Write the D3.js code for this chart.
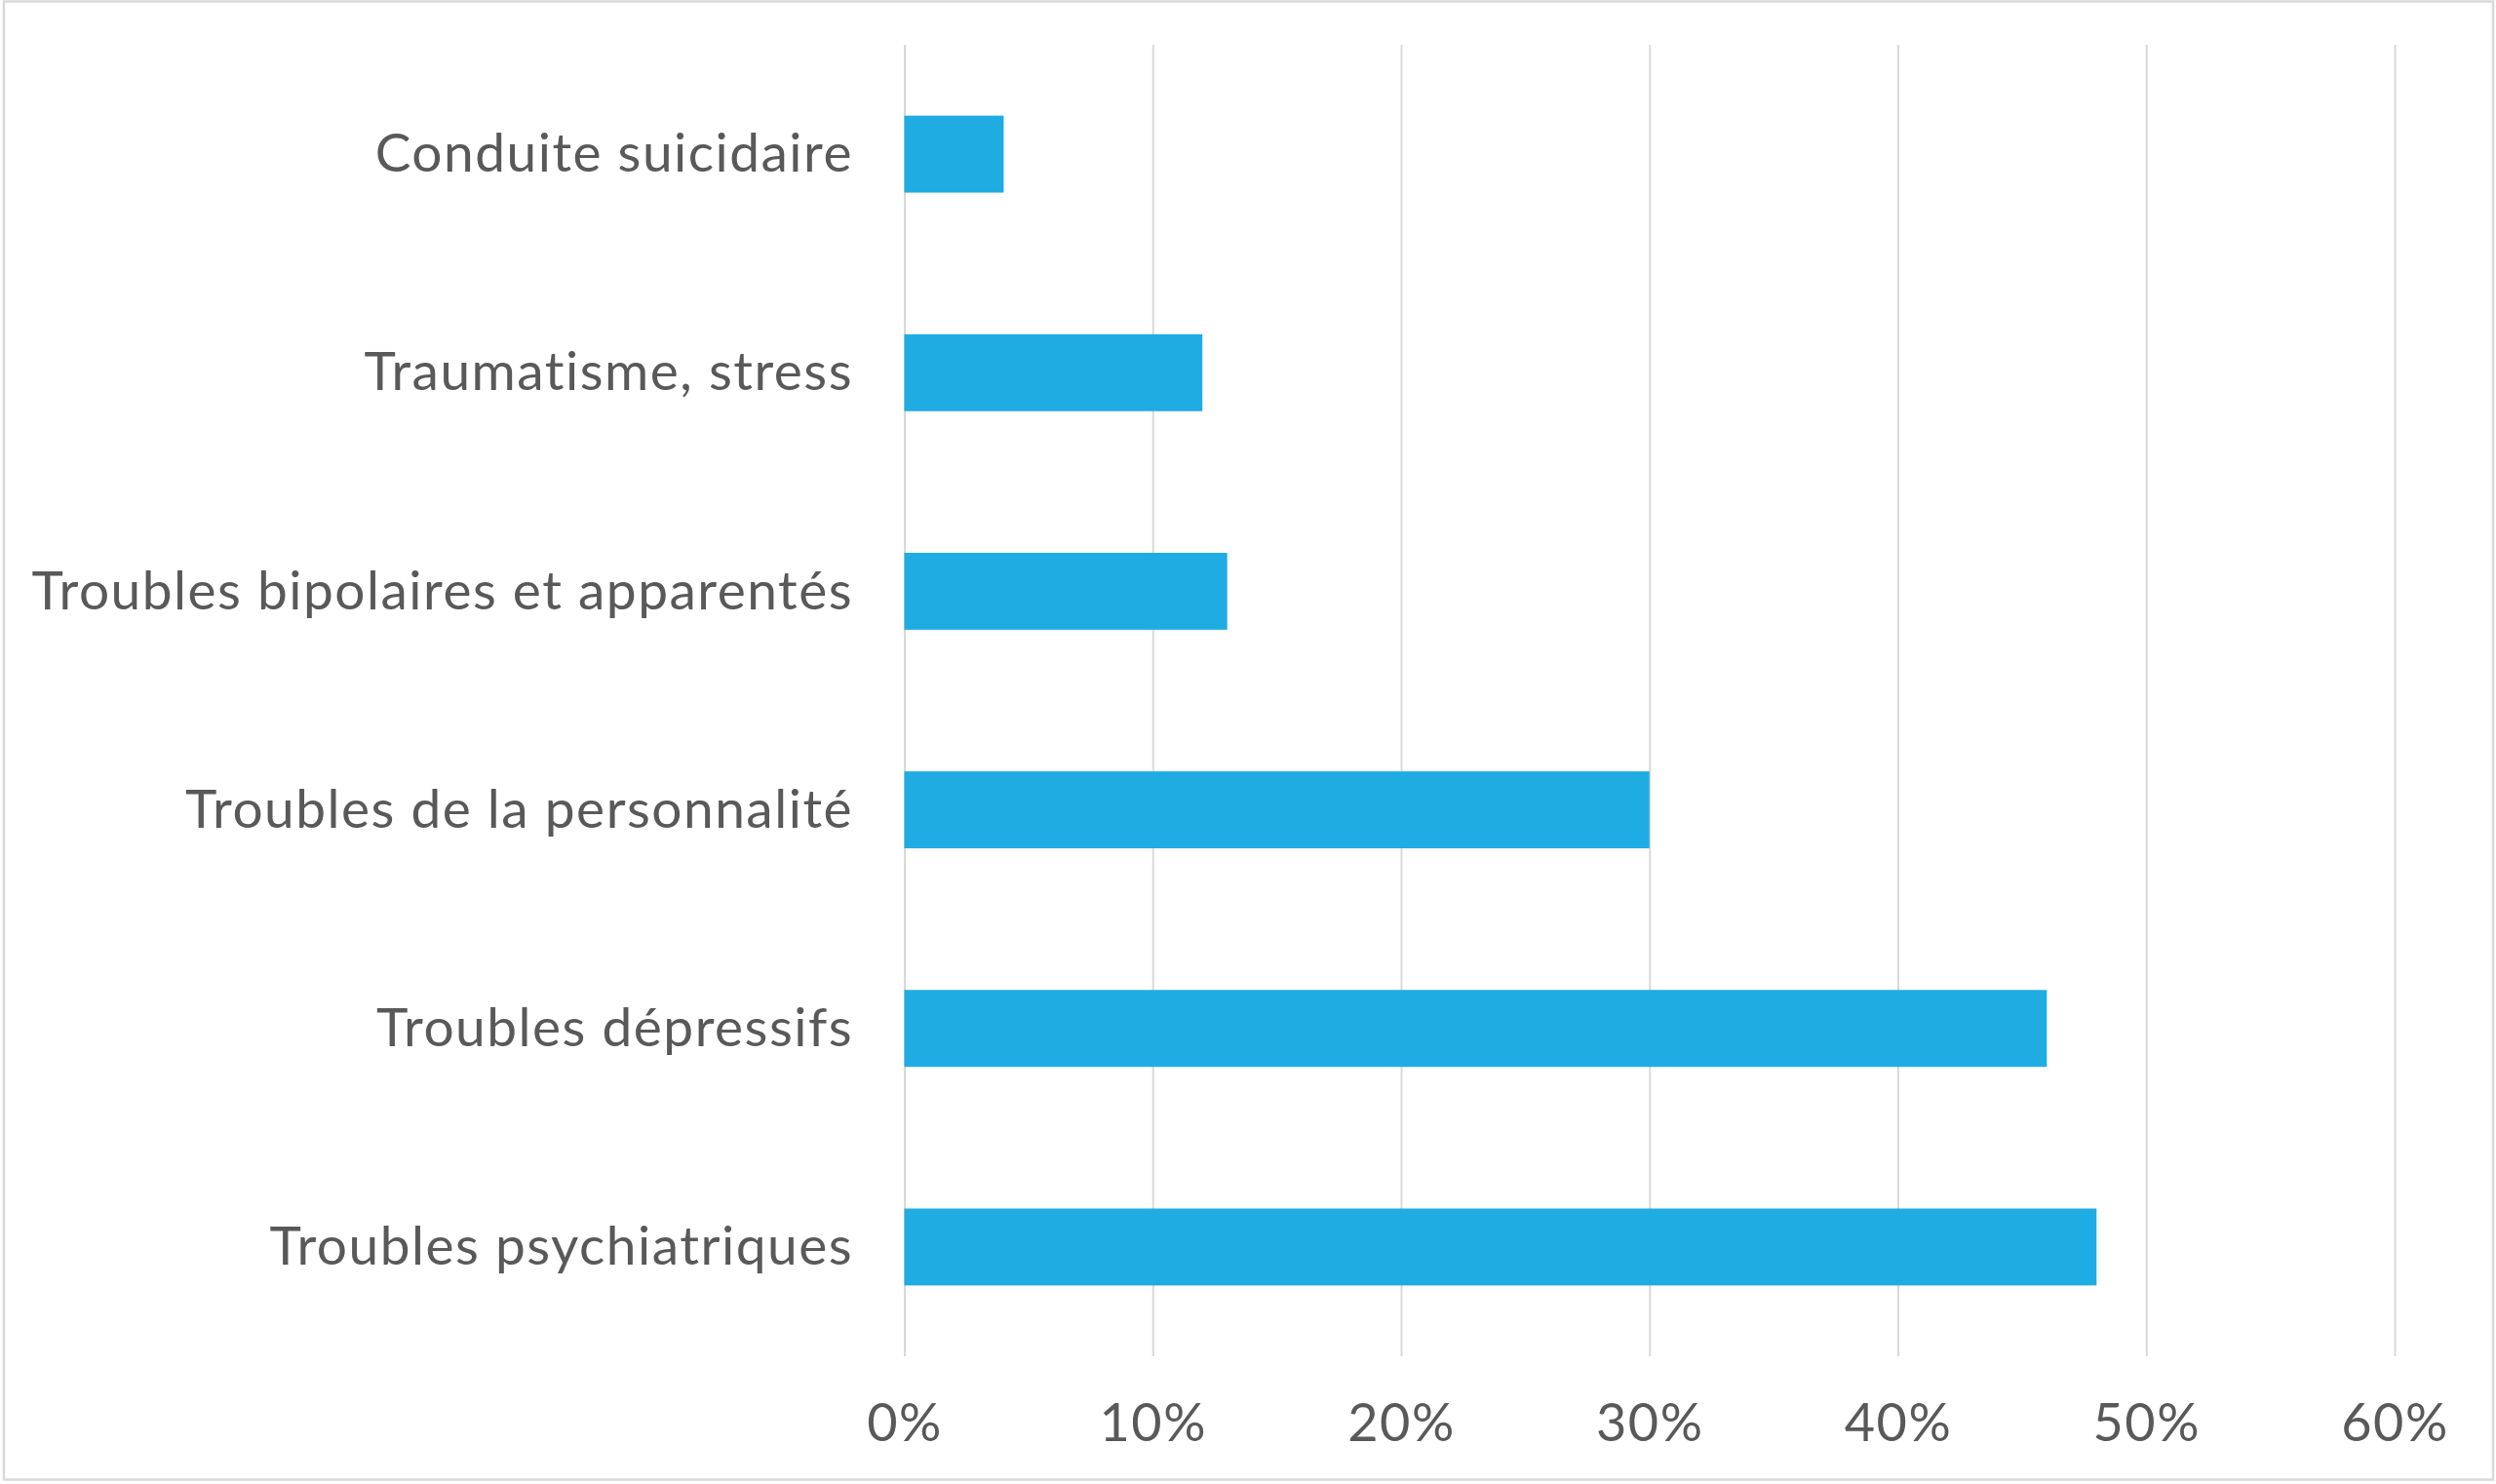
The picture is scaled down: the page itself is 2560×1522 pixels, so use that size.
<!DOCTYPE html>
<html>
<head>
<meta charset="utf-8">
<script src="https://cdn.jsdelivr.net/npm/d3@7"></script>
<style>
  html, body { margin: 0; padding: 0; background: #fff; }
  svg { display: block; }
</style>
</head>
<body>
<svg id="chart" width="2560" height="1522"></svg>
<script>
const categories = [
  'Conduite suicidaire',
  'Traumatisme, stress',
  'Troubles bipolaires et apparentés',
  'Troubles de la personnalité',
  'Troubles dépressifs',
  'Troubles psychiatriques'
]
const values = [4, 12, 13, 30, 46, 48]
const tickValues = [0, 10, 20, 30, 40, 50, 60]

const svg = d3.select('#chart')
const barColor = '#1eace3'
const gridColor = '#d9d9d9'
const textColor = '#595959'
const fontFamily = 'Lato, "Open Sans", sans-serif'

// outer frame
svg.append('rect')
  .attr('x', 4).attr('y', 1.5)
  .attr('width', 2553).attr('height', 1516)
  .attr('fill', '#fff')
  .attr('stroke', gridColor)
  .attr('stroke-width', 2.5)

const xScale = d3.scaleLinear()
  .domain([0, 60])
  .range([927.5, 2456])

const yScale = d3.scaleBand()
  .domain(categories)
  .range([46, 1391])
  .paddingInner(0.648)
  .paddingOuter(0.324)

// vertical gridlines + tick labels
const xAxis = d3.axisBottom(xScale)
  .tickValues(tickValues)
  .tickSize(-(1391 - 46))
  .tickPadding(0)
  .tickFormat(d => d + '%')

const xTicks = svg.append('g')
  .attr('transform', 'translate(0, 1391)')
  .call(xAxis)

xTicks.select('path.domain').remove()
xTicks.selectAll('.tick line')
  .style('stroke', gridColor)
  .style('stroke-width', 2)
xTicks.selectAll('.tick text')
  .attr('y', 87)
  .attr('dy', 0)
  .style('fill', textColor)
  .style('font-family', fontFamily)
  .style('font-size', '54px')
  .style('letter-spacing', '1.5px')

// bars
svg.selectAll('rect.bar')
  .data(values)
  .enter()
  .append('rect')
    .attr('class', 'bar')
    .attr('x', xScale(0))
    .attr('y', (d, i) => yScale(categories[i]))
    .attr('width', d => xScale(d) - xScale(0))
    .attr('height', yScale.bandwidth())
    .attr('fill', barColor)

// category labels
svg.selectAll('text.cat')
  .data(categories)
  .enter()
  .append('text')
    .attr('class', 'cat')
    .text(d => d)
    .attr('x', 875)
    .attr('y', d => yScale(d) + yScale.bandwidth() / 2)
    .attr('dy', '0.33em')
    .style('text-anchor', 'end')
    .style('fill', textColor)
    .style('font-family', fontFamily)
    .style('font-size', '55px')
    .style('letter-spacing', '1.5px')
</script>
</body>
</html>
